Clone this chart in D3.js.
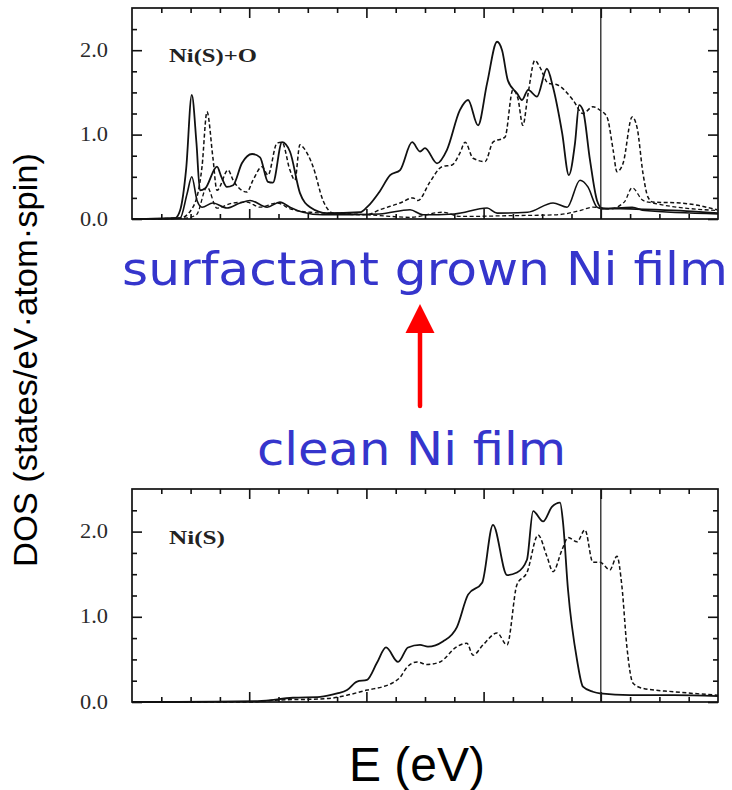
<!DOCTYPE html>
<html>
<head>
<meta charset="utf-8">
<script src="https://cdn.jsdelivr.net/npm/d3@7"></script>
<style>
  body { margin: 0; background: #fff; }
  svg { display: block; }
</style>
</head>
<body>
<div class="dos-chart"></div>
<script>
// energies in eV (Fermi level = 0), DOS in states/eV.atom.spin
const topSolid = [[-16,0],[-14.53,0.01],[-14.36,0.1],[-14.15,0.6],[-13.96,1.47],[-13.8,0.9],[-13.68,0.34],[-13.51,0.36],[-13.1,0.62],[-12.95,0.5],[-12.76,0.38],[-12.55,0.4],[-12.25,0.66],[-11.9,0.77],[-11.63,0.73],[-11.36,0.44],[-11.19,0.43],[-10.88,0.91],[-10.61,0.8],[-10.27,0.31],[-9.92,0.14],[-9.34,0.07],[-8.22,0.08],[-7.98,0.14],[-7.54,0.33],[-7.19,0.52],[-6.85,0.58],[-6.44,0.91],[-6.17,0.8],[-6.0,0.84],[-5.59,0.66],[-5.25,0.82],[-4.81,1.29],[-4.53,1.41],[-4.19,1.11],[-3.88,1.61],[-3.54,2.1],[-3.37,2.0],[-3.17,1.64],[-2.86,1.49],[-2.69,1.41],[-2.48,1.53],[-2.18,1.45],[-1.84,1.78],[-1.63,1.56],[-1.32,1.02],[-1.09,0.52],[-0.88,0.9],[-0.74,1.35],[-0.61,1.29],[-0.37,0.7],[-0.13,0.22],[0.04,0.13],[1.0,0.12],[2.7,0.1],[4.0,0.07]];
const topDashed = [[-16,0],[-14.36,0.01],[-13.92,0.14],[-13.61,0.62],[-13.44,1.27],[-13.24,0.73],[-13.1,0.34],[-12.72,0.58],[-12.55,0.46],[-12.08,0.32],[-11.87,0.46],[-11.56,0.62],[-11.36,0.52],[-11.05,0.9],[-10.88,0.91],[-10.61,0.58],[-10.44,0.46],[-10.27,0.88],[-10.16,0.85],[-9.82,0.62],[-9.48,0.22],[-9.14,0.07],[-8.0,0.05],[-7.54,0.11],[-6.85,0.19],[-6.41,0.25],[-6.24,0.22],[-5.83,0.44],[-5.42,0.62],[-5.08,0.64],[-4.81,0.78],[-4.63,0.91],[-4.36,0.72],[-3.95,0.68],[-3.68,0.91],[-3.27,0.97],[-3.0,1.53],[-2.83,1.43],[-2.66,1.11],[-2.48,1.49],[-2.25,1.88],[-2.08,1.8],[-1.8,1.61],[-1.49,1.59],[-0.95,1.41],[-0.61,1.25],[-0.27,1.33],[-0.03,1.29],[0.21,1.21],[0.42,0.82],[0.55,0.56],[0.76,0.66],[1.07,1.21],[1.24,1.08],[1.44,0.54],[1.61,0.26],[1.78,0.2],[2.7,0.19],[3.97,0.11]];
const topSolidO = [[-16,0],[-14.36,0.01],[-14.12,0.3],[-13.96,0.5],[-13.78,0.22],[-13.61,0.14],[-13.24,0.19],[-12.76,0.13],[-12.31,0.19],[-11.97,0.22],[-11.39,0.14],[-10.95,0.2],[-10.61,0.14],[-10.16,0.08],[-9.5,0.05],[-7.54,0.06],[-6.51,0.11],[-6.07,0.05],[-5.0,0.06],[-3.88,0.13],[-3.54,0.07],[-2.5,0.08],[-1.63,0.19],[-1.15,0.14],[-0.71,0.46],[-0.44,0.38],[-0.13,0.14],[0.04,0.12],[1.07,0.14],[1.5,0.1],[4.0,0.06]];
const topDashedO = [[-16,0],[-14.2,0.01],[-13.8,0.05],[-13.44,0.38],[-13.1,0.13],[-12.55,0.19],[-12.08,0.2],[-11.63,0.14],[-11.05,0.19],[-10.6,0.12],[-9.9,0.08],[-8.5,0.06],[-7.54,0.04],[-6.5,0.02],[-5.39,0.08],[-4.8,0.03],[-3.0,0.04],[-1.5,0.05],[-0.71,0.1],[-0.27,0.14],[0.3,0.12],[0.8,0.2],[1.07,0.37],[1.44,0.22],[1.78,0.19],[4.0,0.1]];
const botSolid = [[-16,0],[-14.5,0],[-11.7,0.01],[-10.51,0.05],[-9.58,0.06],[-9.0,0.1],[-8.66,0.14],[-8.32,0.24],[-7.98,0.26],[-7.64,0.46],[-7.33,0.64],[-6.92,0.47],[-6.58,0.64],[-6.17,0.67],[-5.9,0.65],[-5.39,0.71],[-4.91,0.88],[-4.53,1.26],[-4.05,1.4],[-3.68,2.08],[-3.2,1.49],[-2.86,1.52],[-2.52,1.67],[-2.31,2.24],[-1.97,2.12],[-1.67,2.29],[-1.39,2.34],[-1.29,2.11],[-1.12,1.32],[-0.81,0.49],[-0.61,0.18],[-0.27,0.12],[-0.03,0.1],[1.0,0.08],[2.5,0.08],[4.0,0.07]];
const botDashed = [[-16,0],[-12.0,0.0],[-11.19,0.02],[-9.34,0.04],[-8.66,0.08],[-7.98,0.14],[-7.43,0.18],[-7.13,0.22],[-6.85,0.29],[-6.61,0.41],[-6.27,0.47],[-5.93,0.44],[-5.49,0.47],[-4.91,0.65],[-4.57,0.69],[-4.36,0.55],[-4.02,0.67],[-3.54,0.81],[-3.2,0.67],[-2.86,1.38],[-2.52,1.52],[-2.14,1.96],[-1.84,1.71],[-1.63,1.53],[-1.32,1.79],[-1.12,1.93],[-0.81,1.88],[-0.54,2.02],[-0.27,1.64],[-0.03,1.64],[0.31,1.55],[0.55,1.71],[0.72,1.36],[0.89,0.65],[1.1,0.22],[1.44,0.16],[2.5,0.12],[4.0,0.08]];

const yTickValues = [0, 1, 2];
const yTickLabels = ["0.0", "1.0", "2.0"];
const panelLabels = ["Ni(S)+O", "Ni(S)"];

const w = 732, h = 790;
const left = 132, right = 718;
const eDomain = [-16, 4], dosDomain = [0, 2.5];

const svg = d3.select(".dos-chart")
  .append("svg")
  .attr("width", w)
  .attr("height", h);

const xScale = d3.scaleLinear().domain(eDomain).range([left, right]);

const tickGroup = (axis, scale, values, size, tx, ty) => {
  svg.append("g")
    .attr("transform", `translate(${tx},${ty})`)
    .call(axis(scale).tickValues(values).tickSize(size).tickFormat(""))
    .call(g => g.select(".domain").remove())
    .call(g => g.selectAll("line").attr("stroke", "#111").attr("stroke-width", 1.6));
};

const drawPanel = (top, bottom, curves, label, labelLen) => {
  const yScale = d3.scaleLinear().domain(dosDomain).range([bottom, top]);
  const xMajor = [-12, -8, -4, 0];
  const xMinor = d3.range(-15, 4).filter(v => !xMajor.includes(v));
  const yMinor = d3.range(0.25, 2.5, 0.25).filter(v => !yTickValues.includes(v));

  // ticks point inward on all four sides
  tickGroup(d3.axisBottom, xScale, xMinor, 5, 0, top);
  tickGroup(d3.axisBottom, xScale, xMajor, 10, 0, top);
  tickGroup(d3.axisTop, xScale, xMinor, 5, 0, bottom);
  tickGroup(d3.axisTop, xScale, xMajor, 10, 0, bottom);
  tickGroup(d3.axisRight, yScale, yMinor, 5, left, 0);
  tickGroup(d3.axisRight, yScale, yTickValues, 10, left, 0);
  tickGroup(d3.axisLeft, yScale, yMinor, 5, right, 0);
  tickGroup(d3.axisLeft, yScale, yTickValues, 10, right, 0);

  svg.append("g")
    .selectAll("text")
    .data(yTickValues)
    .enter()
    .append("text")
    .attr("x", 108)
    .attr("y", d => yScale(d) + 6.5)
    .attr("text-anchor", "end")
    .attr("textLength", 28)
    .attr("lengthAdjust", "spacingAndGlyphs")
    .attr("fill", "#2a2a2a")
    .style("font", "20px 'Liberation Serif', 'Times New Roman', serif")
    .text((d, i) => yTickLabels[i]);

  const line = d3.line()
    .x(d => xScale(d[0]))
    .y(d => yScale(d[1]))
    .curve(d3.curveMonotoneX);

  curves.forEach(c => {
    svg.append("path")
      .datum(c.data)
      .attr("d", line)
      .attr("fill", "none")
      .attr("stroke", "#111")
      .attr("stroke-width", c.width)
      .attr("stroke-dasharray", c.dash ? "4,2.5" : null)
      .attr("stroke-linejoin", "round");
  });

  // Fermi level
  svg.append("line")
    .attr("x1", xScale(0)).attr("x2", xScale(0))
    .attr("y1", top).attr("y2", bottom)
    .attr("stroke", "#222")
    .attr("stroke-width", 1.3);

  svg.append("rect")
    .attr("x", left).attr("y", top)
    .attr("width", right - left).attr("height", bottom - top)
    .attr("fill", "none")
    .attr("stroke", "#111")
    .attr("stroke-width", 1.7);

  svg.append("text")
    .attr("x", 169)
    .attr("y", yScale(2) + 12)
    .attr("textLength", labelLen)
    .attr("lengthAdjust", "spacingAndGlyphs")
    .attr("fill", "#222")
    .style("font", "bold 19px 'Liberation Serif', 'Times New Roman', serif")
    .text(label);
};

drawPanel(8, 219, [
  {data: topSolid, dash: false, width: 1.8},
  {data: topDashed, dash: true, width: 1.5},
  {data: topSolidO, dash: false, width: 1.6},
  {data: topDashedO, dash: true, width: 1.3}
], panelLabels[0], 88);

drawPanel(489, 702, [
  {data: botSolid, dash: false, width: 1.8},
  {data: botDashed, dash: true, width: 1.5}
], panelLabels[1], 56);

// annotations
svg.append("text")
  .attr("x", 122).attr("y", 285)
  .attr("textLength", 606)
  .attr("lengthAdjust", "spacingAndGlyphs")
  .attr("fill", "#3535cc")
  .style("font", "46px 'DejaVu Sans', Verdana, sans-serif")
  .text("surfactant grown Ni film");

svg.append("text")
  .attr("x", 257).attr("y", 465)
  .attr("textLength", 309)
  .attr("lengthAdjust", "spacingAndGlyphs")
  .attr("fill", "#3535cc")
  .style("font", "46px 'DejaVu Sans', Verdana, sans-serif")
  .text("clean Ni film");

svg.append("line")
  .attr("x1", 420).attr("x2", 420)
  .attr("y1", 406).attr("y2", 330)
  .attr("stroke", "#ff0000")
  .attr("stroke-width", 4.5)
  .attr("stroke-linecap", "round");
svg.append("path")
  .attr("d", "M420,304 L405.5,333 L434.5,333 Z")
  .attr("fill", "#ff0000");

svg.append("text")
  .attr("transform", "translate(37,360) rotate(-90)")
  .attr("text-anchor", "middle")
  .attr("textLength", 414)
  .attr("lengthAdjust", "spacingAndGlyphs")
  .attr("fill", "#000")
  .style("font", "34px 'Liberation Sans', Arial, sans-serif")
  .text("DOS (states/eV\u00b7atom\u00b7spin)");

svg.append("text")
  .attr("x", 349).attr("y", 781)
  .attr("fill", "#000")
  .style("font", "48px 'Liberation Sans', Arial, sans-serif")
  .text("E (eV)");
</script>
</body>
</html>
